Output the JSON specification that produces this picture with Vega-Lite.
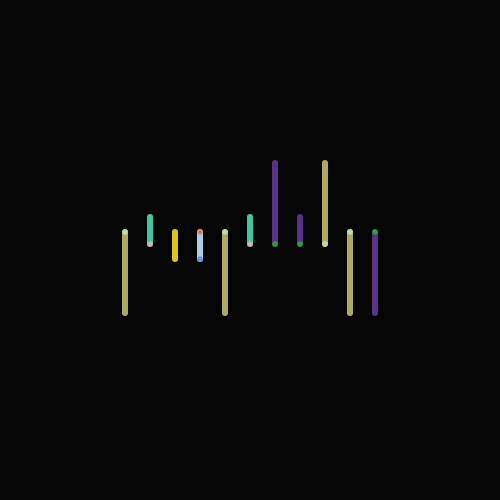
{
  "$schema": "https://vega.github.io/schema/vega-lite/v6.json",
  "description": "Glowing vertical range sticks on a black field",
  "autosize": { "type": "fit", "contains": "padding" },
  "width": 500,
  "height": 500,
  "padding": 0,
  "background": "#050505",
  "datasets": {
    "sticks": [
      { "i": 1, "lo": 187, "hi": 268, "tone": "olive" },
      { "i": 2, "lo": 256, "hi": 283, "tone": "aqua" },
      { "i": 3, "lo": 241, "hi": 268, "tone": "yellow" },
      { "i": 4, "lo": 241, "hi": 268, "tone": "ice" },
      { "i": 5, "lo": 187, "hi": 268, "tone": "olive" },
      { "i": 6, "lo": 256, "hi": 283, "tone": "aqua" },
      { "i": 7, "lo": 256, "hi": 337, "tone": "purple" },
      { "i": 8, "lo": 256, "hi": 283, "tone": "purple" },
      { "i": 9, "lo": 256, "hi": 337, "tone": "olive" },
      { "i": 10, "lo": 187, "hi": 268, "tone": "olive" },
      { "i": 11, "lo": 187, "hi": 268, "tone": "purple" }
    ],
    "tips": [
      { "i": 1, "y": 268, "tone": "pale" },
      { "i": 2, "y": 256, "tone": "pink" },
      { "i": 4, "y": 268, "tone": "red" },
      { "i": 4, "y": 241, "tone": "blue" },
      { "i": 5, "y": 268, "tone": "pale" },
      { "i": 6, "y": 256, "tone": "pink" },
      { "i": 7, "y": 256, "tone": "green" },
      { "i": 8, "y": 256, "tone": "green" },
      { "i": 9, "y": 256, "tone": "pale" },
      { "i": 10, "y": 268, "tone": "pale" },
      { "i": 11, "y": 268, "tone": "green" }
    ]
  },
  "encoding": {
    "x": {
      "field": "i",
      "type": "quantitative",
      "scale": { "domain": [-4, 16], "nice": false, "zero": false }
    },
    "color": {
      "field": "tone",
      "type": "nominal",
      "scale": {
        "domain": ["olive", "aqua", "yellow", "ice", "purple", "pale", "pink", "red", "blue", "green"],
        "range": ["#bdb96c", "#47d6ad", "#f2d51e", "#b7e0fa", "#5e3690", "#c4e6b8", "#e0b4bc", "#e0704c", "#5a8ee0", "#1fb530"]
      }
    }
  },
  "layer": [
    {
      "data": { "name": "sticks" },
      "mark": { "type": "rule", "strokeWidth": 6, "strokeCap": "round", "opacity": 0.92 },
      "encoding": {
        "y": {
          "field": "lo",
          "type": "quantitative",
          "scale": { "domain": [0, 500], "nice": false, "zero": false }
        },
        "y2": { "field": "hi" }
      }
    },
    {
      "data": { "name": "tips" },
      "mark": { "type": "point", "shape": "circle", "filled": true, "size": 30, "opacity": 0.85 },
      "encoding": {
        "y": { "field": "y", "type": "quantitative" }
      }
    }
  ],
  "config": {
    "view": { "stroke": null },
    "axis": { "disable": true },
    "legend": { "disable": true }
  }
}
